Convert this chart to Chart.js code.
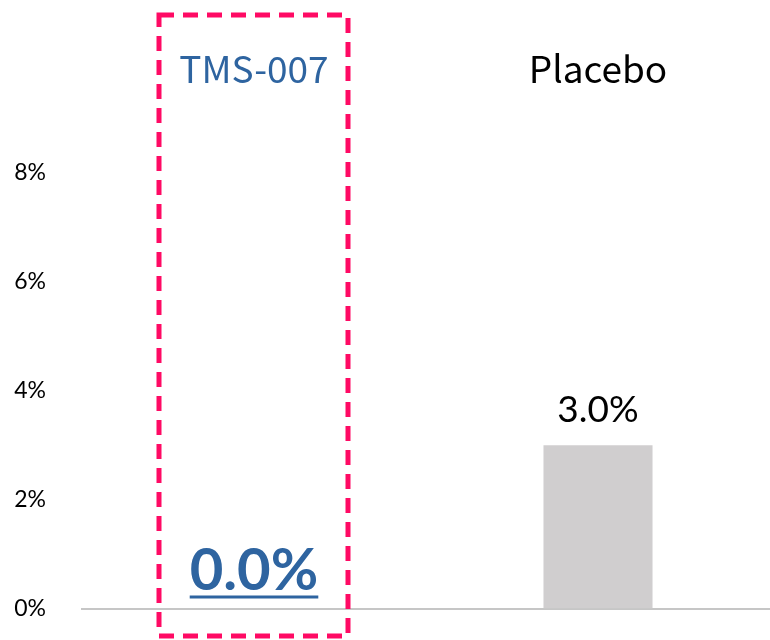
<!DOCTYPE html>
<html>
<head>
<meta charset="utf-8">
<script src="https://cdn.jsdelivr.net/npm/chart.js@4"></script>
<style>
  html, body { margin: 0; padding: 0; background: #fff; }
  #wrap { width: 770px; height: 640px; }
</style>
</head>
<body>
<div id="wrap"><canvas id="rate-chart"></canvas></div>
<script>
const categories = ["TMS-007", "Placebo"];
const rates = [0.0, 3.0];
const yTicks = [0, 2, 4, 6, 8];

const blue = "#2E64A0";
const pink = "#FF0A64";

// value labels + highlight box
const overlay = {
  id: "overlay",
  afterDatasetsDraw(chart) {
    const ctx = chart.ctx;
    const meta = chart.getDatasetMeta(0);
    ctx.save();
    meta.data.forEach((bar, i) => {
      const txt = rates[i].toFixed(1) + "%";
      ctx.textAlign = "center";
      ctx.textBaseline = "alphabetic";
      if (i === 0) {
        ctx.font = "bold 58px Lato";
        ctx.fillStyle = blue;
        const y = bar.y - 19;
        ctx.fillText(txt, bar.x, y);
        const w = ctx.measureText(txt).width;
        ctx.fillRect(bar.x - w / 2, y + 6, w, 3);
      } else {
        ctx.font = "37px Lato";
        ctx.fillStyle = "#000";
        ctx.fillText(txt, bar.x, bar.y - 23);
      }
    });

    // dashed box round TMS-007
    const cx = chart.scales.x.getPixelForValue(0);
    ctx.strokeStyle = pink;
    ctx.lineWidth = 5;
    ctx.setLineDash([15, 9]);
    ctx.strokeRect(cx - 95, 15, 189, 621);
    ctx.restore();
  },
};

new Chart(document.querySelector("#rate-chart"), {
  type: "bar",
  data: {
    labels: categories,
    datasets: [
      {
        data: rates,
        backgroundColor: "#D0CECF",
        borderWidth: 0,
        barPercentage: 0.317,
        categoryPercentage: 1,
        xAxisID: "x",
      },
    ],
  },
  options: {
    responsive: true,
    maintainAspectRatio: false,
    animation: false,
    layout: { padding: { top: 0, right: 0, bottom: 31.5, left: 0 } },
    plugins: { legend: { display: false }, tooltip: { enabled: false } },
    scales: {
      x: {
        position: "bottom",
        grid: { display: false, drawTicks: false },
        border: { display: true, color: "#C6C6C6", width: 2 },
        ticks: { display: false },
      },
      x2: {
        type: "category",
        labels: categories,
        position: "top",
        grid: { display: false, drawTicks: false },
        border: { display: false },
        ticks: {
          padding: 82,
          font: { family: "'Noto Sans CJK JP'", size: 37 },
          color: (c) => (c.index === 0 ? blue : "#000"),
        },
        afterFit(scale) {
          scale.height = 173;
        },
      },
      y: {
        min: 0,
        max: 8,
        afterBuildTicks(scale) {
          scale.ticks = yTicks.map((v) => ({ value: v }));
        },
        grid: { display: false, drawTicks: false },
        border: { display: false },
        ticks: {
          padding: 36,
          color: "#000",
          font: { family: "Lato", size: 23 },
          callback: (v) => v + "%",
        },
        afterFit(scale) {
          scale.width = 82;
          scale.paddingTop = 0;
          scale.paddingBottom = 0;
        },
      },
    },
  },
  plugins: [overlay],
});
</script>
</body>
</html>
